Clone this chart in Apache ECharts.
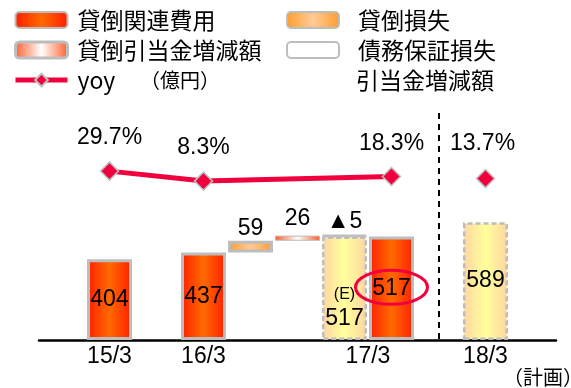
<!DOCTYPE html>
<html>
<head>
<meta charset="utf-8">
<script src="https://cdn.jsdelivr.net/npm/echarts@6/dist/echarts.min.js"></script>
<style>
  html, body { margin: 0; padding: 0; background: #fff; }
  #chart { width: 571px; height: 388px; }
</style>
</head>
<body>
<div id="chart"></div>
<script>
// Slot layout along the x axis: padding, fiscal years, and the waterfall steps between 16/3 and 17/3
const fiscalLabels = ['', '15/3', '', '16/3', '', '', '', '17/3', '', '18/3', ''];

// 貸倒関連費用 (億円)
const creditCost      = [null, 404, null, 437, null, null, null, 517, null, null, null];
// 見込み (E) / 計画
const planCost        = [null, null, null, null, null, null, 517, null, null, 589, null];
// Waterfall deltas from 16/3 to 17/3
const writeOffs       = [null, null, null, null, 59, null, null, null, null, null, null];
const allowanceChange = [null, null, null, null, null, 26, null, null, null, null, null];
const guaranteeChange = [null, null, null, null, null, null, -5, null, null, null, null];
// 前年比 (%)
const yoyActual       = [null, 29.7, null, 8.3, null, null, null, 18.3, null, null, null];
const yoyPlan         = [null, null, null, null, null, null, null, null, null, 13.7, null];

const LATIN = '"Liberation Sans", Arial, "Noto Sans CJK JP", sans-serif';
const CJK = '"Noto Sans CJK JP", "Liberation Sans", sans-serif';
const RED = '#F0003C';
const BORDER = '#BDBDBD';

// Invisible base under each floating waterfall step
const deltas = [writeOffs, allowanceChange, guaranteeChange];
const base = fiscalLabels.map(() => null);
let running = creditCost[3];
for (let i = 4; i <= 6; i++) {
  let d = null;
  deltas.forEach(arr => { if (arr[i] != null) d = arr[i]; });
  if (d == null) continue;
  base[i] = Math.min(running, running + d) - (planCost[i] || 0);
  running += d;
}
const absOf = arr => arr.map(v => v == null ? null : Math.abs(v));

function hGrad(edge, mid) {
  return new echarts.graphic.LinearGradient(0, 0, 1, 0, [
    { offset: 0, color: edge }, { offset: 0.5, color: mid }, { offset: 1, color: edge }
  ]);
}

const chart = echarts.init(document.getElementById('chart'), null, { renderer: 'canvas' });

const barCommon = {
  type: 'bar',
  stack: 'w',
  barWidth: 45,
  xAxisIndex: 0,
  yAxisIndex: 0,
  animation: false
};

const option = {
  animation: false,
  backgroundColor: '#ffffff',
  textStyle: { fontFamily: LATIN },
  grid: { left: 39, right: 15, top: 100, bottom: 48 },
  legend: [
    {
      orient: 'vertical', left: 13, top: 5, padding: 0,
      itemWidth: 52, itemHeight: 16, itemGap: 0,
      selectedMode: false,
      data: [
        '貸倒関連費用',
        { name: '貸倒引当金増減額', itemStyle: { borderWidth: 3, borderColor: BORDER } },
        { name: 'yoy', lineStyle: { width: 5, color: RED } }
      ],
      textStyle: { fontFamily: CJK, fontSize: 23, color: '#000', lineHeight: 30, padding: [0, 0, 0, 5] }
    },
    {
      orient: 'vertical', left: 286, top: 5, padding: 0,
      itemWidth: 52, itemHeight: 16, itemGap: 0,
      selectedMode: false,
      data: ['貸倒損失', '債務保証損失引当金増減額'],
      textStyle: { fontFamily: CJK, fontSize: 23, color: '#000', lineHeight: 30, padding: [0, 0, 0, 14] },
      formatter: name => name === '債務保証損失引当金増減額' ? '債務保証損失' : name
    }
  ],
  xAxis: {
    type: 'category',
    data: fiscalLabels.map((_, i) => String(i)),
    boundaryGap: true,
    axisLine: { lineStyle: { color: '#000', width: 2.5 } },
    axisTick: { show: false },
    axisLabel: {
      interval: 0,
      margin: 5,
      color: '#000',
      fontSize: 23,
      fontFamily: LATIN,
      formatter: (v, i) => i === 7 ? '{shift|' + fiscalLabels[i] + '}' : fiscalLabels[i],
      rich: { shift: { fontSize: 23, fontFamily: LATIN, color: '#000', padding: [0, 47, 0, 0] } }
    }
  },
  yAxis: [
    { type: 'value', min: 0, max: 1200, show: false, splitLine: { show: false } },
    { type: 'value', min: -332, max: 182, show: false, splitLine: { show: false } }
  ],
  series: [
    Object.assign({}, barCommon, {
      name: 'base',
      data: base,
      itemStyle: { color: 'transparent', borderWidth: 0 },
      silent: true,
      markLine: {
        silent: true,
        symbol: 'none',
        label: { show: false },
        lineStyle: { color: '#000', width: 2, type: [6, 5] },
        data: [[{ xAxis: 8, yAxis: 1135 }, { xAxis: 8, yAxis: 0 }]]
      }
    }),
    Object.assign({}, barCommon, {
      name: '貸倒関連費用',
      data: creditCost,
      itemStyle: { color: hGrad('#FF1E00', '#FF6A00'), borderColor: BORDER, borderWidth: 3 },
      label: { show: true, position: 'inside', color: '#000', fontSize: 23, fontFamily: LATIN }
    }),
    Object.assign({}, barCommon, {
      name: '計画',
      data: planCost.map((v, i) => v == null ? null : (i === 6 ? {
        value: v,
        label: {
          position: 'insideBottom', distance: 8,
          formatter: '{e|(E)}\n{v|' + v + '}',
          rich: {
            e: { fontSize: 16, fontFamily: LATIN, color: '#000', lineHeight: 22 },
            v: { fontSize: 23, fontFamily: LATIN, color: '#000', lineHeight: 26 }
          }
        }
      } : v)),
      itemStyle: { color: hGrad('#FFD5A2', '#FFFF9C'), borderColor: BORDER, borderWidth: 2.5, borderType: [5, 3] },
      label: { show: true, position: 'inside', color: '#000', fontSize: 23, fontFamily: LATIN }
    }),
    Object.assign({}, barCommon, {
      name: '貸倒損失',
      data: writeOffs,
      itemStyle: { color: hGrad('#FF9B2E', '#FFCC96'), borderColor: BORDER, borderWidth: 3 },
      label: { show: true, position: 'top', distance: 1, color: '#000', fontSize: 23, fontFamily: LATIN }
    }),
    Object.assign({}, barCommon, {
      name: '貸倒引当金増減額',
      data: allowanceChange,
      itemStyle: { color: hGrad('#FF5A2A', '#FFFFFF'), borderColor: BORDER, borderWidth: 1 },
      label: { show: true, position: 'top', distance: 5, color: '#000', fontSize: 23, fontFamily: LATIN }
    }),
    Object.assign({}, barCommon, {
      name: '債務保証損失引当金増減額',
      data: absOf(guaranteeChange),
      itemStyle: { color: '#FFFFFF', borderColor: BORDER, borderWidth: 3 },
      label: {
        show: true, position: 'top', distance: 1, color: '#000', fontSize: 23, fontFamily: LATIN,
        formatter: p => {
          const raw = guaranteeChange[p.dataIndex];
          return (raw < 0 ? '▲' : '') + Math.abs(raw);
        }
      }
    }),
    {
      name: 'yoy',
      type: 'line',
      xAxisIndex: 0,
      yAxisIndex: 1,
      data: yoyActual,
      connectNulls: true,
      symbol: 'diamond',
      symbolSize: 18,
      lineStyle: { color: RED, width: 5 },
      itemStyle: { color: RED, borderColor: '#BFBFBF', borderWidth: 1.5 },
      label: {
        show: true, position: 'top', distance: 12, color: '#000', fontSize: 23, fontFamily: LATIN,
        formatter: p => p.value.toFixed(1) + '%'
      },
      z: 5
    },
    {
      name: 'yoy計画',
      type: 'line',
      xAxisIndex: 0,
      yAxisIndex: 1,
      data: yoyPlan,
      symbol: 'diamond',
      symbolSize: 18,
      lineStyle: { width: 0 },
      itemStyle: { color: RED, borderColor: '#BFBFBF', borderWidth: 1.5 },
      label: {
        show: true, position: 'top', distance: 14, offset: [-3, 0], color: '#000', fontSize: 23, fontFamily: LATIN,
        formatter: p => p.value.toFixed(1) + '%'
      },
      z: 5
    }
  ]
};

chart.setOption(option);

// Highlight ring around the 17/3 result, plus the extra text notes
const ringCenter = chart.convertToPixel({ xAxisIndex: 0, yAxisIndex: 0 }, [7, creditCost[7] / 2]);
chart.setOption({
  graphic: [
    {
      type: 'ellipse', z: 100, silent: true,
      shape: { cx: ringCenter[0], cy: ringCenter[1] - 1, rx: 36, ry: 17 },
      style: { fill: 'none', stroke: RED, lineWidth: 3 }
    },
    {
      type: 'text', z: 100, silent: true, x: 356, y: 80,
      style: { text: '引当金増減額', fontSize: 23, fontFamily: CJK, fill: '#000', verticalAlign: 'middle' }
    },
    {
      type: 'text', z: 100, silent: true, x: 140, y: 80,
      style: { text: '（億円）', fontSize: 20, fontFamily: CJK, fill: '#000', verticalAlign: 'middle' }
    },
    {
      type: 'text', z: 100, silent: true, x: 503, y: 377,
      style: { text: '（計画）', fontSize: 20, fontFamily: CJK, fill: '#000', verticalAlign: 'middle' }
    }
  ]
});
</script>
</body>
</html>
